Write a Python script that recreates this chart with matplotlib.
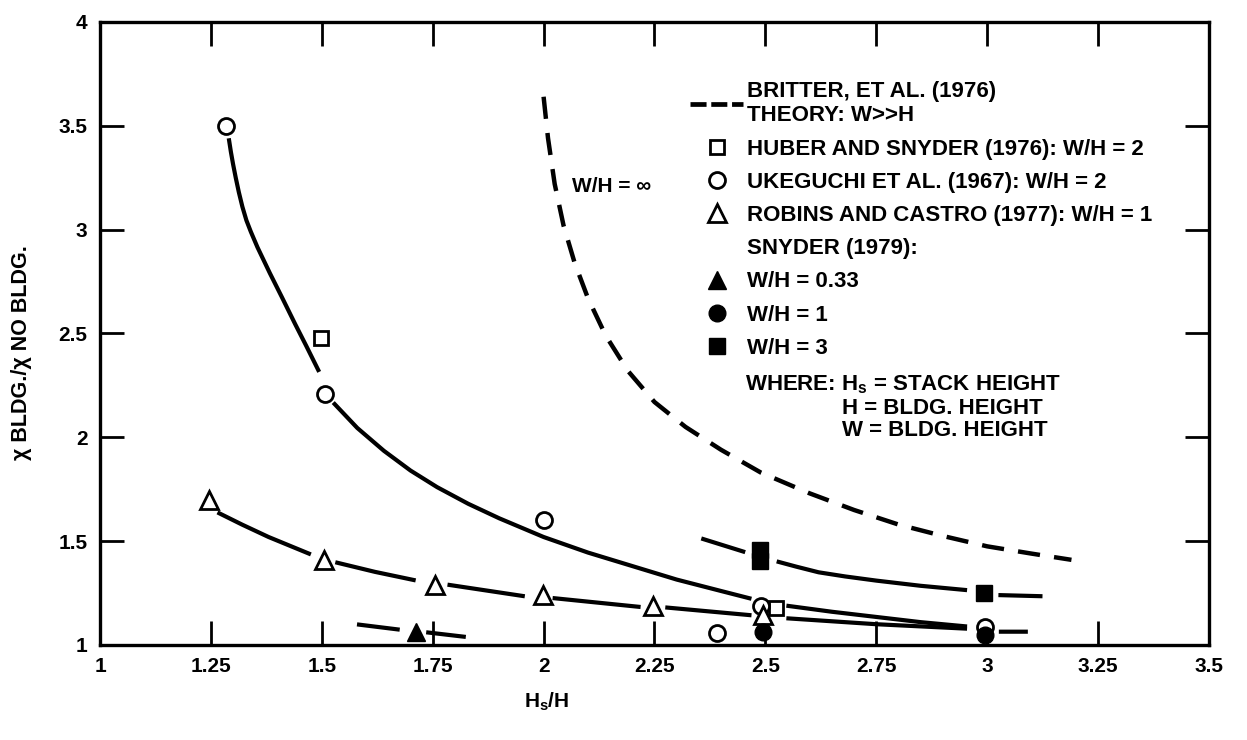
import numpy as np
import matplotlib.pyplot as plt
from matplotlib.lines import Line2D

plt.rcParams['font.family'] = ['Liberation Sans', 'DejaVu Sans']
plt.rcParams['font.weight'] = 'bold'
plt.rcParams['mathtext.fontset'] = 'custom'
plt.rcParams['mathtext.rm'] = 'Liberation Sans:bold'
plt.rcParams['mathtext.it'] = 'Liberation Sans:bold'
plt.rcParams['mathtext.bf'] = 'Liberation Sans:bold'

nan = np.nan

# Britter et al. (1976) theory, W/H = infinity (short dashes)
britter_x = [2.00, 2.01, 2.025, 2.045, 2.07, 2.10, 2.14, 2.19, 2.25, 2.32, 2.40, 2.49,
             2.60, 2.70, 2.80, 2.90, 3.00, 3.10, 3.19]
britter_y = [3.64, 3.44, 3.22, 3.02, 2.84, 2.67, 2.49, 2.32, 2.17, 2.05, 1.94, 1.83,
             1.73, 1.65, 1.58, 1.525, 1.475, 1.44, 1.41]

# curve through Ukeguchi data (solid), gaps where it passes the markers
uke_curve_x = [1.291, 1.295, 1.300, 1.306, 1.313, 1.321, 1.330, 1.340, 1.355, 1.383, 1.41,
               1.44, 1.465, 1.492, nan,
               1.529, 1.58, 1.64, 1.70, 1.76, 1.83, 1.90, 2.0, 2.10, 2.20, 2.30, 2.40, 2.464, nan,
               2.552, 2.65, 2.75, 2.85, 2.95]
uke_curve_y = [3.43, 3.375, 3.315, 3.25, 3.18, 3.11, 3.045, 2.99, 2.915, 2.79, 2.675,
               2.545, 2.44, 2.324, nan,
               2.16, 2.045, 1.935, 1.84, 1.76, 1.68, 1.61, 1.52, 1.445, 1.38, 1.315, 1.26, 1.225, nan,
               1.188, 1.16, 1.135, 1.11, 1.09]

# curve through Robins and Castro data (broken at each marker)
robins_curve_x = [1.269, 1.32, 1.38, 1.471, nan, 1.535, 1.62, 1.707, nan, 1.788, 1.953, nan,
                  2.025, 2.214, nan, 2.279, 2.464, nan, 2.552, 2.75, 2.95, nan, 3.031, 3.087]
robins_curve_y = [1.634, 1.58, 1.52, 1.44, nan, 1.396, 1.352, 1.313, nan, 1.289, 1.236, nan,
                  1.225, 1.184, nan, 1.18, 1.144, nan, 1.128, 1.10, 1.079, nan, 1.064, 1.064]

# Snyder W/H = 3 curve and W/H = 0.33 curve
sny3_curve_x = [2.36, 2.45, nan, 2.53, 2.57, 2.62, 2.68, 2.75, 2.85, 2.95, nan, 3.03, 3.12]
sny3_curve_y = [1.51, 1.45, nan, 1.40, 1.377, 1.35, 1.33, 1.31, 1.285, 1.265, nan, 1.24, 1.235]
sny033_curve_x = [1.584, 1.671, nan, 1.74, 1.82]
sny033_curve_y = [1.098, 1.075, nan, 1.06, 1.04]

# data points
huber_x = [1.499, 2.524]
huber_y = [2.48, 1.18]
uke_x = [1.285, 1.507, 2.0, 2.39, 2.49, 2.995]
uke_y = [3.50, 2.21, 1.60, 1.057, 1.19, 1.085]
robins_x = [1.245, 1.505, 1.756, 1.998, 2.247, 2.495]
robins_y = [1.70, 1.41, 1.29, 1.24, 1.19, 1.145]
sny033_x = [1.712]
sny033_y = [1.064]
sny1_x = [2.495, 2.995]
sny1_y = [1.064, 1.05]
sny3_x = [2.488, 2.488, 2.993]
sny3_y = [1.455, 1.405, 1.25]

x_ticks = [1, 1.25, 1.5, 1.75, 2, 2.25, 2.5, 2.75, 3, 3.25, 3.5]
x_labels = ['1', '1.25', '1.5', '1.75', '2', '2.25', '2.5', '2.75', '3', '3.25', '3.5']
y_ticks = [1, 1.5, 2, 2.5, 3, 3.5, 4]
y_labels = ['1', '1.5', '2', '2.5', '3', '3.5', '4']

fig = plt.figure(figsize=(12.47, 7.40), dpi=100)
ax = fig.add_axes([0.0802, 0.1284, 0.8893, 0.8419])

lw = 3.0
ax.plot(britter_x, britter_y, color='black', lw=lw + 0.2, dashes=(5, 3.2))
ax.plot(uke_curve_x, uke_curve_y, color='black', lw=lw)
ax.plot(robins_curve_x, robins_curve_y, color='black', lw=lw)
ax.plot(sny3_curve_x, sny3_curve_y, color='black', lw=lw)
ax.plot(sny033_curve_x, sny033_curve_y, color='black', lw=lw)

open_kw = dict(linestyle='none', markerfacecolor='white', markeredgecolor='black', markeredgewidth=2.0)
fill_kw = dict(linestyle='none', color='black')
ax.plot(huber_x, huber_y, marker='s', markersize=10.5, **open_kw)
ax.plot(uke_x, uke_y, marker='o', markersize=11.5, **open_kw)
ax.plot(robins_x, robins_y, marker='^', markersize=12.5, **open_kw)
ax.plot(sny033_x, sny033_y, marker='^', markersize=13, **fill_kw)
ax.plot(sny1_x, sny1_y, marker='o', markersize=12, **fill_kw)
ax.plot(sny3_x, sny3_y, marker='s', markersize=11, **fill_kw)

ax.text(2.063, 3.21, 'W/H = \u221e', fontsize=15, ha='left', va='center')

ax.set_xlim(1, 3.5)
ax.set_ylim(1, 4)
ax.set_xticks(x_ticks)
ax.set_xticklabels(x_labels)
ax.set_yticks(y_ticks)
ax.set_yticklabels(y_labels)
ax.tick_params(direction='in', length=17, width=2, top=True, right=True,
               labelsize=15, pad=9)
for sp in ax.spines.values():
    sp.set_linewidth(2.4)

ax.set_xlabel('H$_s$/H', fontsize=15, fontweight='bold')
ax.xaxis.set_label_coords(0.403, -0.074)
ax.set_ylabel('\u03c7 BLDG./\u03c7 NO BLDG.', fontsize=15.5, fontweight='bold')
ax.yaxis.set_label_coords(-0.061, 0.47)

handles = [
    Line2D([], [], color='black', lw=lw + 0.4, dashes=(3.4, 1.0)),
    Line2D([], [], marker='s', markersize=10.5, **open_kw),
    Line2D([], [], marker='o', markersize=11.5, **open_kw),
    Line2D([], [], marker='^', markersize=12.5, **open_kw),
    Line2D([], [], linestyle='none'),
    Line2D([], [], marker='^', markersize=13, **fill_kw),
    Line2D([], [], marker='o', markersize=12, **fill_kw),
    Line2D([], [], marker='s', markersize=11, **fill_kw),
]
labels = [
    'BRITTER, ET AL. (1976)\nTHEORY: W>>H',
    'HUBER AND SNYDER (1976): W/H = 2',
    'UKEGUCHI ET AL. (1967): W/H = 2',
    'ROBINS AND CASTRO (1977): W/H = 1',
    'SNYDER (1979):',
    'W/H = 0.33',
    'W/H = 1',
    'W/H = 3',
]
ax.legend(handles, labels, loc='upper left', bbox_to_anchor=(0.532, 0.905),
          frameon=False, borderpad=0, borderaxespad=0, handlelength=2.4,
          handletextpad=0.15, labelspacing=0.55, numpoints=1,
          prop={'weight': 'bold', 'size': 16})

ax.text(0.5816, 0.4173, 'WHERE: H$_s$ = STACK HEIGHT', transform=ax.transAxes,
        fontsize=16, va='center', ha='left')
ax.text(0.669, 0.380, 'H = BLDG. HEIGHT', transform=ax.transAxes,
        fontsize=16, va='center', ha='left')
ax.text(0.669, 0.3435, 'W = BLDG. HEIGHT', transform=ax.transAxes,
        fontsize=16, va='center', ha='left')

fig.savefig('out.png', dpi=100)
